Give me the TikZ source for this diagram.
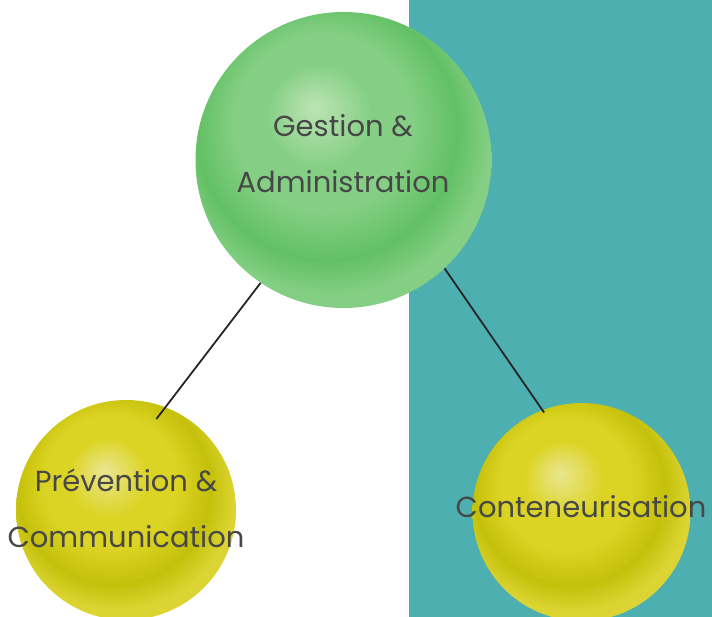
\documentclass[tikz,border=0pt]{standalone}
\usepackage{fontspec}
\setmainfont{Poppins}
\usetikzlibrary{calc}
\definecolor{teal}{HTML}{4DAFAF}
\definecolor{txt}{HTML}{474747}
\definecolor{gl}{HTML}{BDE4B4}
\definecolor{gm}{HTML}{84CF84}
\definecolor{gd}{HTML}{62C064}
\definecolor{ye}{HTML}{DCD432}
\definecolor{yl}{HTML}{EAE592}
\definecolor{ym}{HTML}{DCD424}
\definecolor{yd}{HTML}{C4C00A}
\pgfdeclareradialshading{greenball}{\pgfpoint{-5bp}{9bp}}{color(0bp)=(gl); color(9bp)=(gm); color(15bp)=(gm); color(22bp)=(gd); color(27bp)=(gm); color(50bp)=(gm)}
\pgfdeclareradialshading{yellowball}{\pgfpoint{-5bp}{9bp}}{color(0bp)=(yl); color(9bp)=(ym); color(15bp)=(ym); color(22bp)=(yd); color(27bp)=(ye); color(50bp)=(ye)}
\tikzset{
  ball/.style={circle, inner sep=0pt, minimum size=#1},
  lbl/.style={text=txt, font=\fontsize{29}{56}\selectfont, align=center},
  link/.style={draw=black!85, line width=1.8pt}
}
\begin{document}
\begin{tikzpicture}[x=1pt,y=-1pt]
\useasboundingbox (0,0) rectangle (712,617);
\fill[teal] (409,0) rectangle (712,617);
\node[ball=296pt, shading=greenball] (g) at (343.5,160) {};
\node[ball=220pt, shading=yellowball] (l) at (126,510) {};
\node[ball=218pt, shading=yellowball] (r) at (581.5,512) {};
\draw[link, shorten >=-15pt] (g.236.6) -- (l.69);
\draw[link, shorten >=-3pt] (g.-47.6) -- (r.111);
\node[lbl] (gt) at (343,154) {Gestion \&\\Administration};
\node[lbl] (lt) at (126,508) {Prévention \&\\Communication};
\node[lbl] (rt) at (581,507) {Conteneurisation};
\end{tikzpicture}
\end{document}
